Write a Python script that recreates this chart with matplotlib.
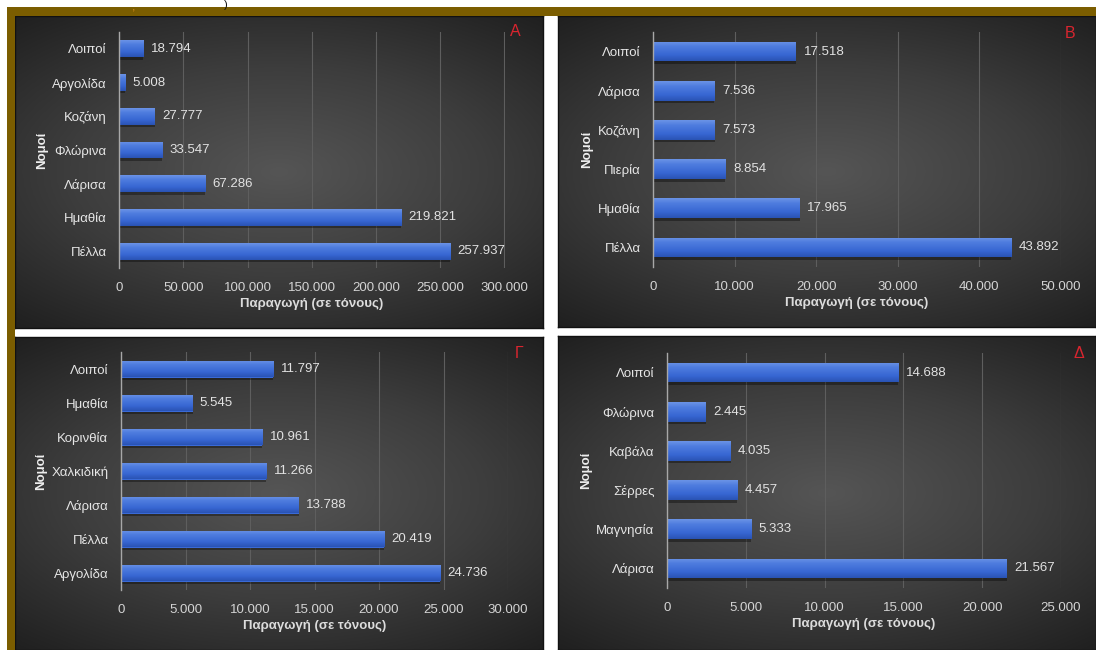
import numpy as np
import matplotlib
matplotlib.use("Agg")
import matplotlib.pyplot as plt
from matplotlib.colors import LinearSegmentedColormap

plt.rcParams['font.family'] = ['Liberation Sans', 'DejaVu Sans']

W, H = 1096, 650

# ---- data -------------------------------------------------------------
cats_a = ["Λοιποί", "Αργολίδα", "Κοζάνη", "Φλώρινα", "Λάρισα", "Ημαθία", "Πέλλα"]
vals_a = [18794, 5008, 27777, 33547, 67286, 219821, 257937]
ticks_a = [0, 50000, 100000, 150000, 200000, 250000, 300000]

cats_b = ["Λοιποί", "Λάρισα", "Κοζάνη", "Πιερία", "Ημαθία", "Πέλλα"]
vals_b = [17518, 7536, 7573, 8854, 17965, 43892]
ticks_b = [0, 10000, 20000, 30000, 40000, 50000]

cats_c = ["Λοιποί", "Ημαθία", "Κορινθία", "Χαλκιδική", "Λάρισα", "Πέλλα", "Αργολίδα"]
vals_c = [11797, 5545, 10961, 11266, 13788, 20419, 24736]
ticks_c = [0, 5000, 10000, 15000, 20000, 25000, 30000]

cats_d = ["Λοιποί", "Φλώρινα", "Καβάλα", "Σέρρες", "Μαγνησία", "Λάρισα"]
vals_d = [14688, 2445, 4035, 4457, 5333, 21567]
ticks_d = [0, 5000, 10000, 15000, 20000, 25000]

panel_letters = ["A", "B", "Γ", "Δ"]
x_title = "Παραγωγή (σε τόνους)"
y_title = "Νομοί"


def fmt(v):
    return f"{v:,}".replace(",", ".")


fig = plt.figure(figsize=(W / 100, H / 100), dpi=100)
fig.patch.set_facecolor("white")


def px_axes(x0, y0, x1, y1, **kw):
    """Axes placed by pixel box (top-left origin)."""
    return fig.add_axes([x0 / W, 1 - y1 / H, (x1 - x0) / W, (y1 - y0) / H], **kw)


# gold frame on the top and left
frame = px_axes(0, 0, W, H, zorder=0)
frame.set_xlim(0, W)
frame.set_ylim(H, 0)
frame.axis("off")
frame.add_patch(plt.Rectangle((7, 7), W - 7, 9, color="#7b5d00", lw=0))
frame.add_patch(plt.Rectangle((7, 7), 8, H - 7, color="#7b5d00", lw=0))
frame.text(134, 1, ",", color="#d98a1a", fontsize=9, ha="center", va="top")
frame.text(226, 0.5, ")", color="#111111", fontsize=8, ha="center", va="top")

# radial background used in every panel
bg_cmap = LinearSegmentedColormap.from_list("bg", ["#555555", "#3d3d3d", "#1e1e1e"])
gy, gx = np.mgrid[-1:1:200j, -1:1:300j]
rad = np.sqrt((gx * 0.85) ** 2 + (gy * 1.0) ** 2)

bar_cmap = LinearSegmentedColormap.from_list(
    "bar", [(0.0, "#6b93e6"), (0.25, "#4f7ddf"), (0.7, "#3766d2"), (1.0, "#2a53b4")])
grad = np.linspace(0, 1, 64).reshape(-1, 1)

panels = [
    dict(cats=cats_a, vals=vals_a, ticks=ticks_a, box=(15, 16, 543, 328),
         plot=(119, 32, 504.5, 268), letter_xy=(515, 31)),
    dict(cats=cats_b, vals=vals_b, ticks=ticks_b, box=(558, 16, 1096, 327),
         plot=(653, 32, 1061, 267), letter_xy=(1070, 33)),
    dict(cats=cats_c, vals=vals_c, ticks=ticks_c, box=(15, 337, 543, 650),
         plot=(121, 352, 508, 590), letter_xy=(519, 353)),
    dict(cats=cats_d, vals=vals_d, ticks=ticks_d, box=(558, 336, 1096, 650),
         plot=(667, 353, 1061, 588), letter_xy=(1079, 354)),
]

for p, letter in zip(panels, panel_letters):
    bx0, by0, bx1, by1 = p["box"]
    bg = px_axes(bx0, by0, bx1, by1, zorder=1)
    bg.imshow(rad, cmap=bg_cmap, vmin=0.0, vmax=1.35, aspect="auto",
              extent=(0, 1, 0, 1), interpolation="bicubic")
    bg.set_xlim(0, 1)
    bg.set_ylim(0, 1)
    bg.set_xticks([])
    bg.set_yticks([])
    for s in bg.spines.values():
        s.set_color("#111111")
        s.set_linewidth(1.0)

    px0, py0, px1, py1 = p["plot"]
    ax = px_axes(px0, py0, px1, py1, zorder=2)
    ax.patch.set_alpha(0)
    n = len(p["cats"])
    ypos = np.arange(n)

    # soft shadow under each bar
    ax.barh(ypos + 0.07, p["vals"], height=0.5, left=0, color="black",
            alpha=0.35, zorder=2, lw=0)
    bars = ax.barh(ypos, p["vals"], height=0.5, color="#3a6ad6", zorder=3, lw=0)
    for b in bars:
        x0b, y0b = b.get_x(), b.get_y()
        im = ax.imshow(grad, cmap=bar_cmap, aspect="auto", zorder=4,
                       extent=(x0b, x0b + b.get_width(), y0b + b.get_height(), y0b))
        im.set_clip_path(b)
    ax.set_xlim(0, p["ticks"][-1])
    ax.set_ylim(n - 0.5, -0.5)

    span = p["ticks"][-1]
    for yv, v in zip(ypos, p["vals"]):
        ax.text(v + span * 0.019, yv, fmt(v), color="#e2e2e2", fontsize=9.5,
                va="center", ha="left", zorder=5)

    ax.set_xticks(p["ticks"])
    ax.set_xticklabels([fmt(t) for t in p["ticks"]])
    ax.set_yticks(ypos)
    ax.set_yticklabels(p["cats"])
    ax.tick_params(axis="x", length=0, pad=10, labelsize=9.5, colors="#d4d4d4")
    ax.tick_params(axis="y", length=0, pad=9, labelsize=9.5, colors="#e6e6e6")
    ax.grid(axis="x", color="#5e5e5e", lw=0.8, zorder=1)
    ax.set_axisbelow(True)
    for side in ("top", "right", "bottom"):
        ax.spines[side].set_visible(False)
    ax.spines["left"].set_color("#a8a8a8")
    ax.spines["left"].set_linewidth(1.0)
    ax.spines["left"].set_zorder(6)

    ax.set_xlabel(x_title, color="#dcdcdc", fontsize=9.5, fontweight="bold", labelpad=3)
    ax.set_ylabel(y_title, color="#eeeeee", fontsize=9.5, fontweight="bold", labelpad=3)

    lx, ly = p["letter_xy"]
    frame.text(lx, ly, letter, color="#d9252f", fontsize=11.5, ha="center",
               va="center", zorder=10)

# frame text must sit above the panels
frame.set_zorder(5)
frame.patch.set_alpha(0)

fig.savefig("out.png", dpi=100, facecolor="white")
